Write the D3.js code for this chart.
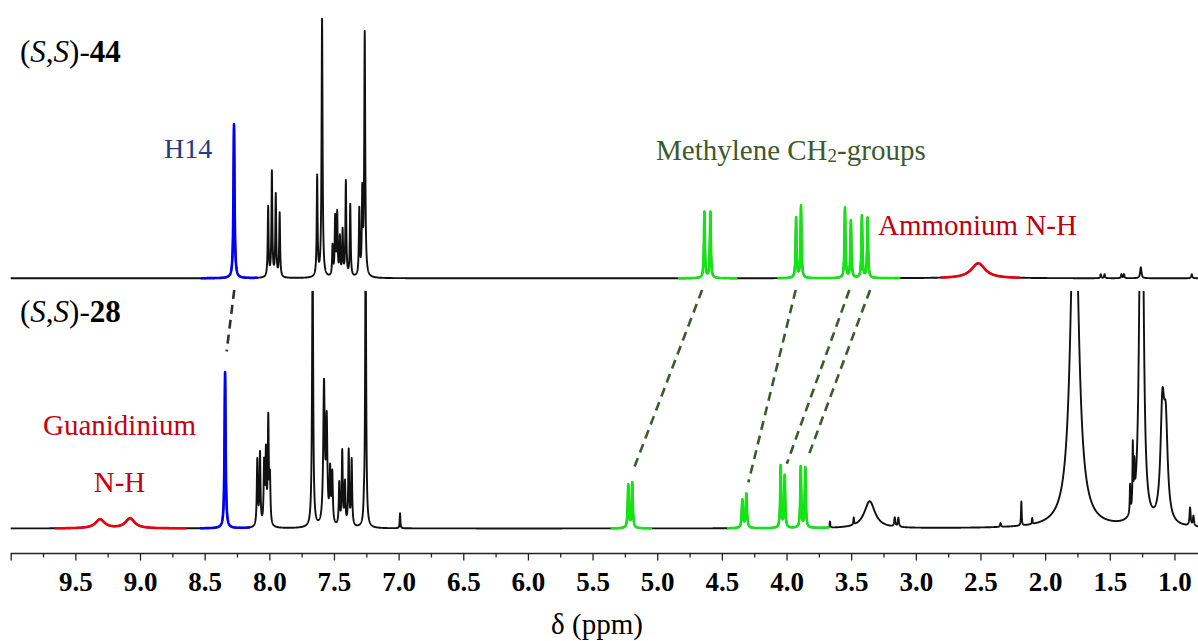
<!DOCTYPE html>
<html>
<head>
<meta charset="utf-8">
<script src="https://cdn.jsdelivr.net/npm/d3@7"></script>
<style>
  html, body { margin: 0; padding: 0; background: #fff; }
  svg { display: block; }
  text { font-family: "Liberation Serif", "Times New Roman", serif; }
</style>
</head>
<body>
<svg id="chart" width="1198" height="641"></svg>
<script>
// ---- Peak lists: [shift (ppm), intensity (a.u.), line width FWHM (ppm)] ----
const peaks44 = [
  [8.273, 154, 0.010],
  [8.009, 70, 0.008], [7.980, 105, 0.008], [7.950, 82, 0.008], [7.920, 64, 0.008],
  [7.630, 100, 0.008], [7.592, 258, 0.009],
  [7.511, 30, 0.008], [7.491, 58, 0.008], [7.475, 62, 0.008], [7.454, 38, 0.008],
  [7.433, 45, 0.008], [7.408, 95, 0.008], [7.374, 72, 0.008],
  [7.304, 66, 0.008], [7.281, 80, 0.008], [7.262, 243, 0.009],
  [4.635, 66, 0.009], [4.589, 66, 0.009],
  [3.926, 60, 0.009], [3.888, 72, 0.009],
  [3.548, 70, 0.009], [3.502, 57, 0.009],
  [3.417, 62, 0.009], [3.373, 60, 0.009],
  [2.517, 15, 0.13],
  [1.570, 4, 0.008], [1.540, 4, 0.008], [1.410, 4, 0.008], [1.390, 4, 0.008],
  [1.260, 11, 0.012], [0.866, 4, 0.010]
];

const peaks28 = [
  [9.309, 9, 0.085], [9.077, 10, 0.085],
  [8.342, 156, 0.010],
  [8.093, 66, 0.009], [8.072, 72, 0.009], [8.040, 60, 0.009], [8.026, 70, 0.009],
  [8.008, 105, 0.009], [7.995, 45, 0.009],
  [7.665, 280, 0.010],
  [7.577, 140, 0.014], [7.556, 100, 0.012], [7.530, 52, 0.010], [7.513, 50, 0.010],
  [7.459, 42, 0.009], [7.436, 74, 0.009], [7.415, 42, 0.009], [7.386, 75, 0.009], [7.363, 66, 0.009],
  [7.268, 12, 0.008], [7.255, 300, 0.009],
  [6.989, 15, 0.006],
  [5.224, 43, 0.010], [5.193, 45, 0.010],
  [4.342, 28, 0.011], [4.311, 34, 0.011],
  [4.045, 62, 0.009], [4.014, 52, 0.009],
  [3.890, 61, 0.009], [3.855, 60, 0.009],
  [3.664, 6, 0.006], [3.480, 7, 0.006], [3.357, 27, 0.10],
  [3.163, 9, 0.010], [3.135, 9, 0.010],
  [2.345, 4, 0.008], [2.184, 24, 0.006], [2.100, 6, 0.006],
  [1.772, 373, 0.071],
  [1.343, 28, 0.006], [1.322, 62, 0.006], [1.310, 35, 0.006],
  [1.263, 250, 0.027], [1.247, 250, 0.027],
  [1.093, 108, 0.035], [1.067, 88, 0.035],
  [0.879, 18, 0.010], [0.853, 10, 0.010]
];

// ---- Assigned regions: [from ppm, to ppm, group] ----
const regions44 = [[8.53, 8.09, "aromatic"], [4.84, 4.38, "methylene"], [4.07, 3.12, "methylene"], [2.81, 2.19, "nh"]];
const regions28 = [[9.657, 8.64, "nh"], [8.535, 8.15, "aromatic"], [5.36, 5.04, "methylene"], [4.46, 3.67, "methylene"]];

// ---- Correlation links between the two spectra: [ppm in 44, ppm in 28, group] ----
const links = [
  [8.271, 8.330, "h14"],
  [4.653, 5.189, "methylene"],
  [3.929, 4.295, "methylene"],
  [3.514, 3.998, "methylene"],
  [3.354, 3.831, "methylene"]
];

// ---- Axis ticks ----
const majorTicks = [10.0, 9.5, 9.0, 8.5, 8.0, 7.5, 7.0, 6.5, 6.0, 5.5, 5.0, 4.5, 4.0, 3.5, 3.0, 2.5, 2.0, 1.5, 1.0];
const minorTicks = [9.75, 9.25, 8.75, 8.25, 7.75, 7.25, 6.75, 6.25, 5.75, 5.25, 4.75, 4.25, 3.75, 3.25, 2.75, 2.25, 1.75, 1.25];
const ppmRange = [10.0, 0.8];

// ---- Styling ----
const lineColor = { aromatic: "#0000ff", methylene: "#12e612", nh: "#e8000c" };
const linkColor = { h14: "#27303d", methylene: "#3d5a2c" };

const svg = d3.select("#chart");
const x = d3.scaleLinear().domain(ppmRange).range([10.7, 1200.3]);
const yTop = d3.scaleLinear().domain([0, 260]).range([278.3, 18.3]);
const yBot = d3.scaleLinear().domain([0, 250]).range([528.5, 278.5]);

// Lorentzian line shape summed over a peak list
function intensity(peaks, ppm) {
  let s = 0;
  for (const [c, h, w] of peaks) {
    const t = 2 * (ppm - c) / w;
    s += h / (1 + t * t);
  }
  return s;
}

const step = 0.001;
const grid = d3.range(ppmRange[0], ppmRange[1] - step / 2, -step);
const spec44 = grid.map(p => ({ ppm: p, v: intensity(peaks44, p) }));
const spec28 = grid.map(p => ({ ppm: p, v: intensity(peaks28, p) }));

svg.append("defs").append("clipPath").attr("id", "clip28")
  .append("rect").attr("x", 0).attr("y", 291).attr("width", 1198).attr("height", 350);

function drawSpectrum(data, regions, y, clip) {
  const g = svg.append("g");
  if (clip) g.attr("clip-path", `url(#${clip})`);
  const line = d3.line().x(d => x(d.ppm)).y(d => y(d.v));
  g.append("path").datum(data)
    .attr("d", line).attr("fill", "none")
    .attr("stroke", "#111").attr("stroke-width", 1.9).attr("stroke-linejoin", "round");
  regions.forEach(([a, b, key]) => {
    const seg = data.filter(d => d.ppm <= a && d.ppm >= b);
    g.append("path").datum(seg)
      .attr("d", line).attr("fill", "none")
      .attr("stroke", lineColor[key]).attr("stroke-width", 2.6).attr("stroke-linejoin", "round");
  });
}

drawSpectrum(spec44, regions44, yTop, null);
drawSpectrum(spec28, regions28, yBot, "clip28");

// Dashed correlation lines from the upper spectrum down to the shifted signals below
function localMax(peaks, ppm) {
  let m = 0;
  for (let p = ppm - 0.04; p <= ppm + 0.04; p += 0.002) m = Math.max(m, intensity(peaks, p));
  return m;
}
links.forEach(([p44, p28, key]) => {
  const gap = key === "h14" ? 21 : 11;
  svg.append("line")
    .attr("x1", x(p44)).attr("y1", 290)
    .attr("x2", x(p28)).attr("y2", yBot(localMax(peaks28, p28)) - gap)
    .attr("stroke", linkColor[key]).attr("stroke-width", 2.6)
    .attr("stroke-dasharray", "9,6");
});

// ---- Axis ----
const axisY = 553.5;
const axisMajor = d3.axisBottom(x).tickValues(majorTicks).tickSize(7).tickSizeOuter(0)
  .tickFormat(d => d >= 10 ? "" : d3.format(".1f")(d));
const gAxis = svg.append("g").attr("transform", `translate(0,${axisY})`).call(axisMajor);
gAxis.select(".domain").attr("stroke", "#222").attr("stroke-width", 1.3).attr("d", `M${x(ppmRange[0])},0H1198`);
gAxis.selectAll(".tick line").attr("stroke", "#222").attr("stroke-width", 1.3);
gAxis.selectAll(".tick text")
  .attr("y", 37).attr("dy", null)
  .attr("fill", "#000")
  .style("font-family", "'Liberation Serif', 'Times New Roman', serif")
  .style("font-weight", "bold").style("font-size", "27px");

const axisMinor = d3.axisBottom(x).tickValues(minorTicks).tickSize(4).tickSizeOuter(0).tickFormat("");
const gMinor = svg.append("g").attr("transform", `translate(0,${axisY})`).call(axisMinor);
gMinor.select(".domain").remove();
gMinor.selectAll(".tick line").attr("stroke", "#222").attr("stroke-width", 1.3);

svg.append("text").attr("x", 597).attr("y", 634).attr("text-anchor", "middle")
  .style("font-size", "29px").attr("fill", "#000").text("δ (ppm)");

// ---- Compound labels ----
function compoundLabel(yPos, num) {
  const t = svg.append("text").attr("x", 20).attr("y", yPos).style("font-size", "31px").attr("fill", "#000");
  t.append("tspan").text("(");
  t.append("tspan").style("font-style", "italic").text("S");
  t.append("tspan").text(",");
  t.append("tspan").style("font-style", "italic").text("S");
  t.append("tspan").text(")-");
  t.append("tspan").style("font-weight", "bold").text(num);
}
compoundLabel(62, "44");
compoundLabel(322, "28");

// ---- Signal annotations ----
svg.append("text").attr("x", 164).attr("y", 158).style("font-size", "28px")
  .attr("fill", "#1f3c86").text("H14");

const meth = svg.append("text").attr("x", 656).attr("y", 160).style("font-size", "29px").attr("fill", "#3d5a2b");
meth.append("tspan").text("Methylene CH");
meth.append("tspan").style("font-size", "19px").attr("dy", 2).text("2");
meth.append("tspan").attr("dy", -2).text("-groups");

svg.append("text").attr("x", 878).attr("y", 235).style("font-size", "29px")
  .attr("fill", "#c0000d").text("Ammonium N-H");

svg.append("text").attr("x", 119.5).attr("y", 435).attr("text-anchor", "middle").style("font-size", "29px")
  .attr("fill", "#c8000f").text("Guanidinium");
svg.append("text").attr("x", 119.5).attr("y", 492).attr("text-anchor", "middle").style("font-size", "29px")
  .attr("fill", "#c8000f").text("N-H");
</script>
</body>
</html>
